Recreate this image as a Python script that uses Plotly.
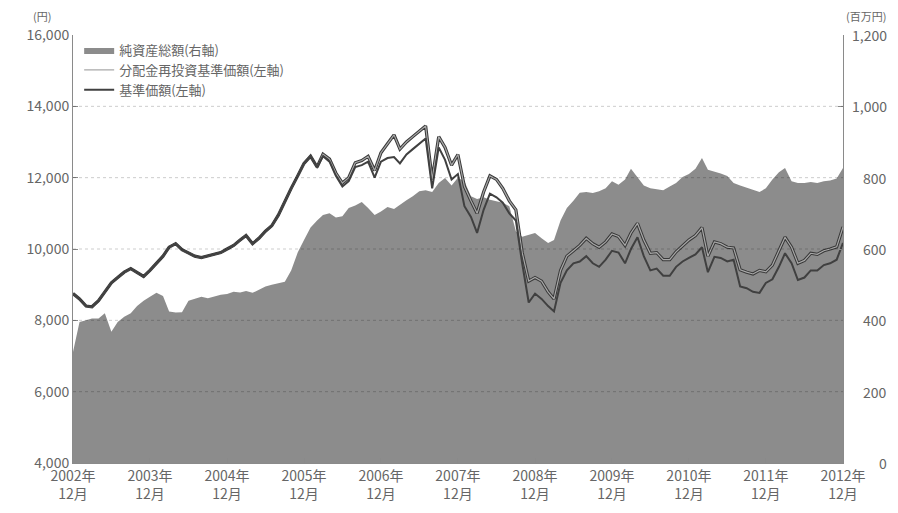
import plotly.graph_objects as go
import pandas as pd

# Monthly dates, 2002-12 .. 2012-12
months = pd.date_range("2002-12-01", "2012-12-01", freq="MS").strftime("%Y-%m-%d").tolist()

# 基準価額 (円, left axis)
nav = [
    8750, 8600, 8400, 8380, 8550, 8800, 9050, 9200, 9350, 9450,
    9350, 9230, 9400, 9600, 9800, 10050, 10150, 9980, 9900, 9800,
    9760, 9800, 9850, 9900, 10000, 10100, 10250, 10380, 10150, 10300,
    10500, 10650, 10950, 11350, 11700, 12050, 12400, 12600, 12300, 12600,
    12450, 12050, 11750, 11900, 12300, 12350, 12450, 12000, 12450, 12550,
    12580, 12400, 12650, 12800, 12950, 13100, 11700, 12850, 12500, 11950,
    12100, 11200, 10900, 10450, 11100, 11550, 11450, 11300, 11000, 10800,
    9600, 8500, 8750, 8600, 8400, 8250, 9050, 9400, 9600, 9650,
    9800, 9600, 9500, 9700, 9950, 9900, 9600, 10000, 10330, 9800,
    9400, 9450, 9250, 9250, 9500, 9650, 9750, 9850, 10050, 9350,
    9780, 9750, 9650, 9700, 8950, 8900, 8800, 8770, 9050, 9150,
    9500, 9880, 9600, 9130, 9200, 9400, 9400, 9550, 9600, 9700, 10170,
]

# 分配金再投資基準価額 (円, left axis)
nav_reinvested = [
    8750, 8600, 8400, 8380, 8550, 8800, 9050, 9200, 9350, 9450,
    9350, 9230, 9400, 9600, 9800, 10050, 10150, 9980, 9900, 9800,
    9760, 9800, 9850, 9900, 10000, 10100, 10250, 10380, 10150, 10300,
    10500, 10650, 10950, 11350, 11700, 12050, 12400, 12600, 12300, 12660,
    12520, 12130, 11850, 12000, 12420, 12480, 12600, 12200, 12700, 12950,
    13200, 12800, 13000, 13150, 13300, 13450, 11950, 13150, 12850, 12350,
    12650, 11750, 11350, 11000, 11600, 12050, 11950, 11700, 11350, 11100,
    9900, 9100, 9200, 9100, 8800, 8600, 9400, 9800, 9950, 10100,
    10300, 10150, 10050, 10200, 10420, 10350, 10100, 10450, 10720, 10250,
    9880, 9900, 9700, 9700, 9920, 10100, 10250, 10380, 10600, 9800,
    10200, 10150, 10050, 10030, 9420, 9350, 9300, 9400, 9360, 9550,
    9950, 10330, 10050, 9600, 9680, 9880, 9850, 9950, 10000, 10060, 10620,
]

# 純資産総額 (百万円, right axis)
net_assets = [
    311, 395, 400, 405, 405, 420, 368, 395, 410, 420,
    440, 455, 466, 477, 468, 425, 422, 423, 455, 460,
    466, 462, 468, 472, 474, 480, 478, 482, 477, 485,
    495, 500, 505, 508, 540, 590, 625, 660, 680, 695,
    700, 688, 692, 715, 722, 732, 715, 695, 705, 718,
    712, 725, 737, 748, 762, 765, 760, 785, 799, 778,
    800, 790, 748, 740, 745, 738, 735, 730, 720, 650,
    634, 640, 645, 630, 617, 625, 680, 715, 735, 758,
    760, 757, 762, 770, 790, 780, 795, 825, 800, 778,
    770, 768, 765, 775, 785, 802, 810, 825, 855, 822,
    818, 812, 805, 785, 778, 772, 765, 760, 770, 795,
    815, 827, 790, 785, 785, 788, 785, 790, 792, 798, 827,
]

x_tick_years = list(range(2002, 2013))
x_tickvals = [f"{y}-12-01" for y in x_tick_years]
x_ticktext = [f"{y}年<br>12月" for y in x_tick_years]

left_ticks = [4000, 6000, 8000, 10000, 12000, 14000, 16000]
left_ticktext = [f"{v:,}" for v in left_ticks]
right_ticks = [0, 200, 400, 600, 800, 1000, 1200]
right_ticktext = [f"{v:,}" for v in right_ticks]

FONT = "Noto Sans CJK JP"
TXT = "#666666"
AREA = "#8c8c8c"
AXIS = "#8a8a8a"

fig = go.Figure()
fig.add_trace(go.Scatter(
    x=months, y=net_assets, name="純資産総額(右軸)", mode="lines",
    fill="tozeroy", fillcolor=AREA, line=dict(width=0, color=AREA), yaxis="y",
))
fig.add_trace(go.Scatter(
    x=months, y=nav_reinvested, mode="lines", showlegend=False, hoverinfo="skip",
    line=dict(color="#383838", width=3.2), yaxis="y2",
))
fig.add_trace(go.Scatter(
    x=months, y=nav_reinvested, name="分配金再投資基準価額(左軸)", mode="lines",
    line=dict(color="#a8a8a8", width=1.2), yaxis="y2",
))
fig.add_trace(go.Scatter(
    x=months, y=nav, name="基準価額(左軸)", mode="lines",
    line=dict(color="#404040", width=2), yaxis="y2",
))

shapes = []
for v in left_ticks[1:-1]:
    shapes.append(dict(type="line", xref="paper", x0=0, x1=1, yref="y2", y0=v, y1=v,
                       line=dict(color="rgba(0,0,0,0.2)", width=1, dash="dot"), layer="above"))

annotations = []
for v, t in zip(right_ticks, right_ticktext):
    annotations.append(dict(xref="paper", x=1, xanchor="right", xshift=46, yref="y", y=v,
                            yanchor="middle", text=t, showarrow=False,
                            font=dict(family=FONT, size=14, color=TXT)))
annotations.append(dict(xref="paper", yref="paper", x=0, xshift=-31, y=1.0, yshift=19,
                        xanchor="center", yanchor="middle", text="(円)", showarrow=False,
                        font=dict(family=FONT, size=11, color=TXT)))
annotations.append(dict(xref="paper", yref="paper", x=1, xshift=45, y=1.0, yshift=19,
                        xanchor="right", yanchor="middle", text="(百万円)", showarrow=False,
                        font=dict(family=FONT, size=11, color=TXT)))

fig.update_layout(
    width=890, height=505,
    margin=dict(l=65, r=55, t=27, b=50, autoexpand=False),
    paper_bgcolor="white", plot_bgcolor="white",
    font=dict(family=FONT, size=14, color=TXT),
    showlegend=True,
    legend=dict(x=0.008, y=1.0, xanchor="left", yanchor="top", bgcolor="rgba(0,0,0,0)",
                font=dict(family=FONT, size=13, color=TXT), tracegroupgap=0, itemwidth=30),
    xaxis=dict(type="date", range=["2002-12-01", "2012-12-01"], tickvals=x_tickvals,
               ticktext=x_ticktext, ticks="inside", ticklen=5, tickcolor=AXIS,
               showline=True, linecolor=AXIS, showgrid=False, zeroline=False,
               automargin=False, tickfont=dict(family=FONT, size=14, color=TXT)),
    yaxis=dict(side="right", range=[0, 1200], tickvals=right_ticks, ticks="inside",
               ticklen=5, tickcolor=AXIS, showline=True, linecolor=AXIS, automargin=False,
               showticklabels=False, showgrid=False, zeroline=False),
    yaxis2=dict(overlaying="y", side="left", range=[4000, 16000], tickvals=left_ticks,
                ticktext=left_ticktext, ticks="inside", ticklen=5, tickcolor=AXIS,
                showline=True, linecolor=AXIS, showgrid=False, zeroline=False,
                automargin=False, tickfont=dict(family=FONT, size=14, color=TXT)),
    shapes=shapes,
    annotations=annotations,
)

fig.write_html("out.html")
